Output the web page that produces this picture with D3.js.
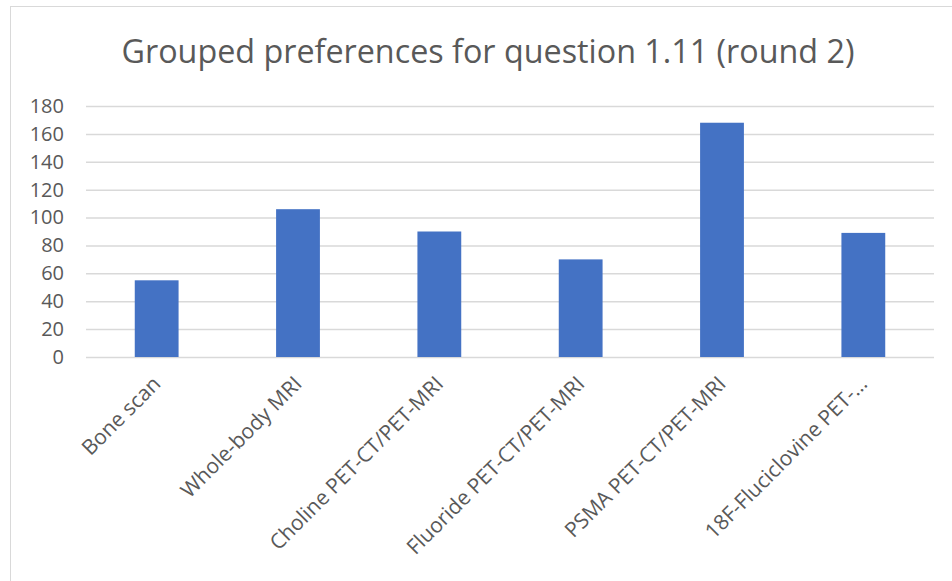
<!DOCTYPE html>
<html>
<head>
<meta charset="utf-8">
<script src="https://cdn.jsdelivr.net/npm/d3@7"></script>
<style>
  body { margin: 0; background: #fff; }
  text { font-family: "Open Sans", Lato, sans-serif; fill: #595959; }
</style>
</head>
<body>
<div id="chart"></div>
<script>
const categories = ['Bone scan', 'Whole-body MRI', 'Choline PET-CT/PET-MRI', 'Fluoride PET-CT/PET-MRI',
  'PSMA PET-CT/PET-MRI', '18F-Fluciclovine PET-\u2026'];
const counts = [55, 106, 90, 70, 168, 89];
const yTicks = [0, 20, 40, 60, 80, 100, 120, 140, 160, 180];

const width = 952;
const height = 581;
const margin = { top: 106, right: 18, bottom: 224, left: 86 };

const svg = d3.select('#chart')
    .append('svg')
    .attr('width', width)
    .attr('height', height);

// chart frame
svg.append('rect')
    .attr('x', 10.5)
    .attr('y', 6.5)
    .attr('width', width)
    .attr('height', height)
    .attr('fill', 'none')
    .attr('stroke', '#d9d9d9');

const x = d3.scaleBand()
    .domain(categories)
    .range([margin.left, width - margin.right])
    .paddingInner(0.69)
    .paddingOuter(0.345);

const y = d3.scaleLinear()
    .domain([0, 180])
    .range([height - margin.bottom, margin.top]);

svg.append('text')
    .attr('x', 488)
    .attr('y', 63)
    .attr('text-anchor', 'middle')
    .style('font-size', '32.3px')
    .text('Grouped preferences for question 1.11 (round 2)');

// gridlines
svg.append('g')
    .attr('transform', 'translate(' + margin.left + ',0)')
    .call(d3.axisLeft(y).tickValues(yTicks).tickSize(-(width - margin.left - margin.right)).tickFormat(''))
    .call(g => g.select('.domain').remove())
    .call(g => g.selectAll('line').attr('stroke', '#d9d9d9').attr('stroke-width', 1.5));

// y labels
svg.append('g')
    .attr('transform', 'translate(64,0)')
    .call(d3.axisLeft(y).tickValues(yTicks).tickSize(0).tickPadding(0))
    .call(g => g.select('.domain').remove())
    .call(g => g.selectAll('text').style('font-size', '20px').attr('fill', '#595959'));

svg.append('g')
    .selectAll('rect')
    .data(counts)
    .join('rect')
    .attr('x', (d, i) => x(categories[i]))
    .attr('y', d => y(d))
    .attr('width', x.bandwidth())
    .attr('height', d => y(0) - y(d))
    .attr('fill', '#4472c4');

// rotated category labels
svg.append('g')
    .selectAll('text')
    .data(categories)
    .join('text')
    .attr('transform', d => 'translate(' + (x(d) + x.bandwidth() / 2) + ',380) rotate(-45)')
    .attr('text-anchor', 'end')
    .attr('dy', '0.35em')
    .style('font-size', '21px')
    .text(d => d);
</script>
</body>
</html>
